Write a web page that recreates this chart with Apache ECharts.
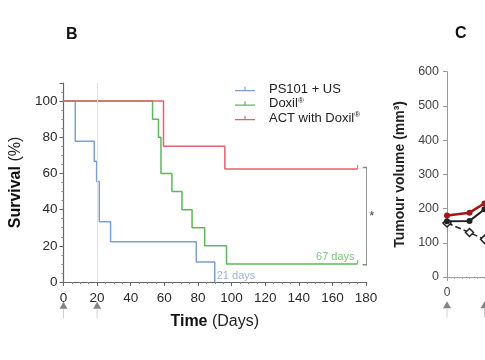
<!DOCTYPE html>
<html><head><meta charset="utf-8">
<script src="https://cdn.jsdelivr.net/npm/echarts@6/dist/echarts.min.js"></script>
<style>html,body{margin:0;padding:0;background:#fff}#c{width:485px;height:360px}</style>
</head><body><div id="c"></div>
<script>
// ---- Panel B: Kaplan-Meier survival data (days, % survival) ----
const seriesNames = ['PS101 + US', 'Doxil®', 'ACT with Doxil®'];
const ps101Days  = [0, 7, 18.3, 19.7, 21.3, 28, 79, 90];
const ps101Surv  = [100, 77.8, 66.7, 55.6, 33.3, 22.2, 11.1, 0];
const doxilDays  = [0, 53, 56.5, 58, 64.5, 70.5, 76.5, 84, 97, 175];
const doxilSurv  = [100, 90, 80, 60, 50, 40, 30, 20, 10, 10];
const actDays    = [0, 59.5, 96, 175];
const actSurv    = [100, 75, 62.5, 62.5];
const treatmentDaysB = [0, 20];
const medianLabels = ['21 days', '67 days'];
const xTicksB = [0, 20, 40, 60, 80, 100, 120, 140, 160, 180];
const yTicksB = [0, 20, 40, 60, 80, 100];
// ---- Panel C (partially visible): tumour volume (mm³) ----
const cDays   = [0, 3, 5];
const cAct    = [180, 188, 215];
const cDoxil  = [163, 164, 198];
const cPs101  = [158, 130, 110];
const treatmentDaysC = [0, 5];
const yTicksC = [0, 100, 200, 300, 400, 500, 600];

const FONT = '"Liberation Sans", Arial, sans-serif';
const BLUE = '#7f9fd2', GREEN = '#5db85d', RED = '#e8606c';
const zip = (a, b) => a.map((v, i) => [v, b[i]]);
const last = a => a[a.length - 1];

const chart = echarts.init(document.getElementById('c'), null, {renderer: 'canvas'});

const axisB = {
  axisLine: {show: true, lineStyle: {color: '#666', width: 1.2}},
  axisTick: {show: true, length: 4, lineStyle: {color: '#666'}},
  minorTick: {show: true, splitNumber: 4, length: 2, lineStyle: {color: '#888'}},
  splitLine: {show: false},
  axisLabel: {color: '#2a2a2a', fontSize: 13.5, fontFamily: FONT}
};

const option = {
  backgroundColor: '#fff',
  animation: false,
  textStyle: {fontFamily: FONT},
  graphic: [
    {type: 'text', left: 66, top: 27, style: {text: 'B', font: 'bold 16px ' + FONT, fill: '#111'}},
    {type: 'text', left: 455, top: 26, style: {text: 'C', font: 'bold 16px ' + FONT, fill: '#111'}}
  ],
  legend: {
    data: seriesNames,
    orient: 'vertical',
    left: 235, top: 82, padding: 0,
    itemWidth: 20, itemHeight: 6, itemGap: 0.5,
    icon: 'path://M0,4.8 L20,4.8 L20,6 L0,6 Z M9.4,1.5 L10.6,1.5 L10.6,4.8 L9.4,4.8 Z',
    selectedMode: false,
    formatter: n => n.replace('®', '{s|®}'),
    textStyle: {fontSize: 13, color: '#222', fontFamily: FONT, lineHeight: 14, padding: [0, 0, 0, 9],
      rich: {s: {fontSize: 8, verticalAlign: 'top', color: '#222', fontFamily: FONT}}}
  },
  grid: [
    {left: 63.5, top: 83, width: 302.5, height: 199, outerBoundsMode: 'none'},
    {left: 447, top: 71.7, width: 300, height: 205.3, outerBoundsMode: 'none'}
  ],
  xAxis: [
    Object.assign({}, axisB, {
      gridIndex: 0, type: 'value', min: xTicksB[0], max: last(xTicksB), interval: 20,
      axisLabel: Object.assign({}, axisB.axisLabel, {margin: 9}),
      name: '{b|Time} (Days)', nameLocation: 'middle', nameGap: 32,
      nameTextStyle: {fontSize: 16, color: '#222', fontFamily: FONT,
        rich: {b: {fontSize: 16, fontWeight: 'bold', color: '#111', fontFamily: FONT}}}
    }),
    {
      gridIndex: 1, type: 'value', min: 0, max: 40, interval: 10,
      axisLine: {lineStyle: {color: '#999'}},
      axisTick: {length: 4, lineStyle: {color: '#999'}},
      minorTick: {show: true, splitNumber: 10, length: 2, lineStyle: {color: '#aaa'}},
      splitLine: {show: false},
      axisLabel: {color: '#444', fontSize: 12, margin: 10, fontFamily: FONT}
    }
  ],
  yAxis: [
    Object.assign({}, axisB, {
      gridIndex: 0, type: 'value', min: 0, max: 110, interval: 20,
      axisLabel: Object.assign({}, axisB.axisLabel, {margin: 6, showMaxLabel: false,
        formatter: v => (yTicksB.indexOf(v) >= 0 ? String(v) : '')}),
      name: '{b|Survival} (%)', nameLocation: 'middle', nameGap: 35,
      nameTextStyle: {fontSize: 16, color: '#222', fontFamily: FONT,
        rich: {b: {fontSize: 16, fontWeight: 'bold', color: '#111', fontFamily: FONT}}}
    }),
    {
      gridIndex: 1, type: 'value', min: 0, max: last(yTicksC), interval: 100,
      axisLine: {show: true, lineStyle: {color: '#999'}},
      axisTick: {show: true, length: 4, lineStyle: {color: '#999'}},
      splitLine: {show: false},
      axisLabel: {color: '#444', fontSize: 12.5, margin: 8, fontFamily: FONT},
      name: 'Tumour volume (mm³)', nameLocation: 'middle', nameGap: 37,
      nameTextStyle: {fontSize: 14, fontWeight: 'bold', color: '#222', fontFamily: FONT}
    }
  ],
  series: [
    {
      name: seriesNames[0], type: 'line', step: 'end', showSymbol: false,
      data: zip(ps101Days, ps101Surv), color: BLUE, lineStyle: {width: 1.5, color: BLUE},
      markLine: {silent: true, symbol: 'none', label: {show: false},
        lineStyle: {color: '#e2e2e2', width: 1, type: 'solid'}, data: [{xAxis: treatmentDaysB[1]}]}
    },
    {
      name: seriesNames[1], type: 'line', step: 'end', showSymbol: false,
      data: zip(doxilDays, doxilSurv), color: GREEN, lineStyle: {width: 1.5, color: GREEN}
    },
    {
      name: seriesNames[2], type: 'line', step: 'end', showSymbol: false,
      data: zip(actDays, actSurv), color: RED, lineStyle: {width: 1.5, color: RED}
    },
    // censor ticks at the end of follow-up
    {
      type: 'scatter', symbol: 'rect', symbolSize: [1.3, 4], symbolOffset: [0, -2],
      data: [
        {value: [last(actDays), last(actSurv)], itemStyle: {color: RED}},
        {value: [last(doxilDays), last(doxilSurv)], itemStyle: {color: GREEN}}
      ], silent: true, z: 3
    },
    // median survival labels
    {
      type: 'scatter', symbolSize: 0, silent: true, clip: false,
      data: [
        {value: [last(ps101Days), last(ps101Surv)],
          label: {show: true, formatter: medianLabels[0], position: 'right', distance: 2, offset: [0, -6],
            color: BLUE, fontSize: 11, fontFamily: FONT}},
        {value: [last(doxilDays), last(doxilSurv)],
          label: {show: true, formatter: medianLabels[1], position: 'left', distance: 3, offset: [0, -7],
            color: GREEN, fontSize: 11, fontFamily: FONT}}
      ]
    },
    // significance bracket between ACT and Doxil
    {
      type: 'line', clip: false, showSymbol: false, silent: true,
      lineStyle: {color: '#888', width: 1.4},
      data: [[178, last(actSurv) + 0.8], [180.5, last(actSurv) + 0.8], [180.5, last(doxilSurv) - 0.5], [178, last(doxilSurv) - 0.5]]
    },
    {
      type: 'scatter', symbolSize: 0, silent: true, clip: false,
      data: [{value: [183.5, (last(actSurv) + last(doxilSurv)) / 2],
        label: {show: true, formatter: '*', position: 'inside', color: '#111', fontSize: 13, fontFamily: FONT}}]
    },
    // treatment arrows (panel B)
    {
      type: 'scatter', clip: false, silent: true, symbol: 'rect', symbolSize: [1, 9],
      itemStyle: {color: '#c4c4c4'}, data: treatmentDaysB.map(d => [d, -17.5])
    },
    {
      type: 'scatter', clip: false, silent: true, symbol: 'triangle', symbolSize: [8, 7],
      itemStyle: {color: '#666'}, data: treatmentDaysB.map(d => [d, -12.8])
    },
    // ---- Panel C ----
    {
      type: 'line', xAxisIndex: 1, yAxisIndex: 1, data: zip(cDays, cPs101),
      symbol: 'diamond', symbolSize: 8, color: '#222',
      lineStyle: {type: 'dashed', width: 1.5, color: '#222'},
      itemStyle: {color: '#fff', borderColor: '#222', borderWidth: 1.5}
    },
    {
      type: 'line', xAxisIndex: 1, yAxisIndex: 1, data: zip(cDays, cDoxil),
      symbol: 'circle', symbolSize: 6, color: '#222',
      lineStyle: {width: 2, color: '#222'}, itemStyle: {color: '#222'}
    },
    {
      type: 'line', xAxisIndex: 1, yAxisIndex: 1, data: zip(cDays, cAct),
      symbol: 'circle', symbolSize: 6, color: '#a3161c',
      lineStyle: {width: 2.5, color: '#a3161c'}, itemStyle: {color: '#a3161c'}
    },
    {
      type: 'scatter', xAxisIndex: 1, yAxisIndex: 1, clip: false, silent: true, symbol: 'rect', symbolSize: [1, 9],
      itemStyle: {color: '#c4c4c4'}, data: treatmentDaysC.map(d => [d, -105])
    },
    {
      type: 'scatter', xAxisIndex: 1, yAxisIndex: 1, clip: false, silent: true, symbol: 'triangle', symbolSize: [8, 7],
      itemStyle: {color: '#666'}, data: treatmentDaysC.map(d => [d, -81])
    }
  ]
};
chart.setOption(option);
</script>
</body></html>
